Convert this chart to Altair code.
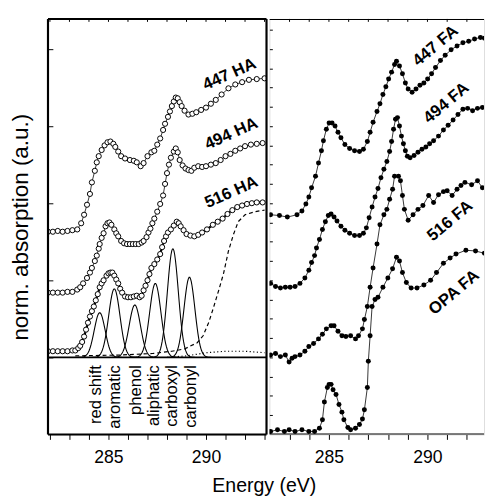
import altair as alt
import pandas as pd
import numpy as np

# ---------------- data ----------------
# Left panel: humic acids (open circles)
E_447HA = [281.9, 282.15, 282.4, 282.65, 282.9, 283.15, 283.4, 283.6, 283.75, 283.9, 284.05, 284.15, 284.3, 284.4,
           284.5, 284.65, 284.8, 284.95, 285.1, 285.25, 285.35, 285.5, 285.65, 285.85, 286.1, 286.3, 286.45, 286.65,
           286.8, 287.0, 287.2, 287.35, 287.5, 287.65, 287.8, 287.9, 288.05, 288.15, 288.25, 288.35, 288.45, 288.55,
           288.65, 288.75, 288.9, 289.1, 289.3, 289.5, 289.75, 290.0, 290.25, 290.5, 290.8, 291.15, 291.5, 291.85,
           292.2, 292.6, 293.0]
Y_447HA = [2.63, 2.63, 2.64, 2.63, 2.64, 2.65, 2.66, 2.74, 2.85, 2.98, 3.12, 3.27, 3.42, 3.53,
           3.61, 3.69, 3.75, 3.79, 3.80, 3.77, 3.73, 3.67, 3.61, 3.58, 3.56, 3.55, 3.53, 3.48,
           3.52, 3.61, 3.66, 3.68, 3.76, 3.84, 3.95, 4.03, 4.12, 4.19, 4.26, 4.32, 4.37, 4.36,
           4.31, 4.26, 4.20, 4.15, 4.16, 4.18, 4.21, 4.24, 4.29, 4.34, 4.41, 4.49, 4.54, 4.57,
           4.60, 4.61, 4.62]

E_494HA = [281.9, 282.15, 282.4, 282.65, 282.9, 283.15, 283.4, 283.55, 283.7, 283.9, 284.05, 284.15, 284.3, 284.4,
           284.5, 284.55, 284.65, 284.75, 284.85, 284.95, 285.05, 285.15, 285.3, 285.4, 285.5, 285.65, 285.8, 285.95,
           286.1, 286.25, 286.4, 286.55, 286.7, 286.8, 286.95, 287.05, 287.15, 287.25, 287.35, 287.5, 287.65, 287.8,
           287.9, 288.0, 288.1, 288.2, 288.35, 288.45, 288.55, 288.65, 288.8, 288.95, 289.1, 289.25, 289.4, 289.6,
           289.8, 290.0, 290.25, 290.5, 290.75, 291.0, 291.25, 291.5, 291.75, 292.0, 292.3, 292.6, 292.9]
Y_494HA = [1.84, 1.84, 1.84, 1.84, 1.85, 1.85, 1.88, 1.91, 1.96, 2.03, 2.10, 2.16, 2.25, 2.32,
           2.41, 2.47, 2.55, 2.61, 2.70, 2.74, 2.75, 2.72, 2.66, 2.61, 2.57, 2.51, 2.48, 2.47,
           2.47, 2.47, 2.47, 2.47, 2.49, 2.51, 2.56, 2.62, 2.67, 2.74, 2.80, 2.89, 2.99, 3.10,
           3.25, 3.39, 3.50, 3.59, 3.67, 3.71, 3.66, 3.56, 3.49, 3.45, 3.43, 3.42, 3.46, 3.48,
           3.47, 3.48, 3.50, 3.52, 3.56, 3.61, 3.64, 3.68, 3.71, 3.74, 3.76, 3.77, 3.78]

E_516HA = [281.9, 282.15, 282.4, 282.65, 282.9, 283.15, 283.3, 283.45, 283.55, 283.65, 283.75, 283.85, 283.95, 284.05,
           284.15, 284.25, 284.35, 284.45, 284.55, 284.65, 284.75, 284.9, 285.0, 285.1, 285.2, 285.3, 285.4, 285.5,
           285.6, 285.7, 285.85, 286.0, 286.15, 286.3, 286.45, 286.6, 286.7, 286.8, 286.9, 287.0, 287.1, 287.2,
           287.35, 287.5, 287.65, 287.75, 287.85, 287.95, 288.05, 288.2, 288.35, 288.5, 288.6, 288.7, 288.85, 289.0,
           289.2, 289.4, 289.6, 289.8, 290.05, 290.35, 290.6, 290.85, 291.1, 291.35, 291.6, 291.85, 292.1, 292.35,
           292.6, 292.9]
Y_516HA = [1.08, 1.08, 1.08, 1.08, 1.08, 1.09, 1.09, 1.12, 1.15, 1.20, 1.27, 1.36, 1.45, 1.53,
           1.60, 1.66, 1.74, 1.82, 1.91, 1.96, 2.00, 2.06, 2.09, 2.10, 2.10, 2.06, 2.01, 1.96,
           1.89, 1.84, 1.79, 1.78, 1.78, 1.79, 1.80, 1.78, 1.80, 1.87, 1.93, 2.00, 2.08, 2.16,
           2.21, 2.27, 2.34, 2.43, 2.51, 2.57, 2.62, 2.66, 2.71, 2.76, 2.74, 2.70, 2.65, 2.60,
           2.58, 2.57, 2.59, 2.62, 2.66, 2.72, 2.76, 2.80, 2.86, 2.91, 2.95, 2.97, 2.99, 3.00,
           3.01, 3.01]

# Gaussian components of the 516 HA fit (centre eV, height above baseline, sigma eV)
PEAK_NAMES = ["red shift", "aromatic", "phenol", "aliphatic", "carboxyl", "carbonyl"]
PEAK_CENTER = [284.55, 285.3, 286.35, 287.4, 288.3, 289.15]
PEAK_HEIGHT = [0.58, 0.89, 0.68, 0.96, 1.41, 1.04]
PEAK_SIGMA = [0.28, 0.29, 0.29, 0.29, 0.28, 0.28]
PEAK_LABEL_E = [284.35, 285.35, 286.4, 287.35, 288.25, 289.25]
BASELINE = 1.0

# Ionisation step (dashed) and the small dotted component
E_STEP = [283.3, 285.5, 287.25, 288.25, 288.9, 289.55, 289.85, 290.15, 290.4, 290.65, 290.9, 291.15, 291.4,
          291.65, 292.0, 292.5, 293.0]
Y_STEP = [1.02, 1.03, 1.05, 1.08, 1.11, 1.19, 1.28, 1.46, 1.66, 1.87, 2.09, 2.38, 2.59,
          2.76, 2.85, 2.89, 2.91]
E_DOT = [288.0, 289.0, 289.5, 290.0, 290.5, 291.0, 291.5, 292.0, 292.5, 293.0]
Y_DOT = [1.00, 1.02, 1.04, 1.06, 1.07, 1.08, 1.08, 1.08, 1.07, 1.06]

# Right panel: fulvic acids (filled circles)
E_447FA = [282.04, 282.49, 282.89, 283.38, 283.63, 283.83, 283.98, 284.12, 284.32, 284.47, 284.62, 284.72, 284.87,
           285.01, 285.16, 285.31, 285.46, 285.61, 285.81, 286.05, 286.3, 286.55, 286.75, 286.95, 287.09, 287.24,
           287.44, 287.59, 287.74, 287.89, 288.03, 288.18, 288.33, 288.43, 288.58, 288.73, 288.88, 289.02, 289.22,
           289.42, 289.62, 289.82, 290.01, 290.21, 290.41, 290.66, 290.9, 291.2, 291.5, 291.8, 292.09, 292.39,
           292.69, 292.89]
Y_447FA = [2.85, 2.84, 2.82, 2.85, 2.90, 2.99, 3.08, 3.20, 3.35, 3.52, 3.68, 3.81, 3.96,
           4.04, 4.04, 4.00, 3.92, 3.85, 3.76, 3.71, 3.68, 3.67, 3.70, 3.80, 3.92, 4.05,
           4.19, 4.29, 4.41, 4.51, 4.61, 4.70, 4.80, 4.84, 4.78, 4.68, 4.56, 4.48, 4.44,
           4.48, 4.53, 4.56, 4.61, 4.68, 4.76, 4.85, 4.92, 4.99, 5.04, 5.08, 5.10, 5.13,
           5.15, 5.14]

E_494FA = [282.04, 282.29, 282.54, 282.79, 283.03, 283.28, 283.53, 283.78, 283.98, 284.12, 284.27, 284.37, 284.52,
           284.67, 284.82, 284.97, 285.11, 285.26, 285.41, 285.61, 285.81, 286.05, 286.3, 286.55, 286.75, 286.9,
           287.04, 287.19, 287.34, 287.49, 287.64, 287.79, 287.94, 288.08, 288.18, 288.28, 288.38, 288.48, 288.58,
           288.68, 288.78, 288.88, 288.98, 289.12, 289.32, 289.52, 289.72, 289.92, 290.11, 290.31, 290.56, 290.81,
           291.05, 291.3, 291.55, 291.8, 292.04, 292.29, 292.54, 292.79]
Y_494FA = [1.96, 1.92, 1.90, 1.91, 1.91, 1.92, 1.96, 2.03, 2.13, 2.23, 2.32, 2.42, 2.53,
           2.66, 2.76, 2.84, 2.86, 2.82, 2.77, 2.70, 2.65, 2.61, 2.58, 2.58, 2.61, 2.68,
           2.81, 2.95, 3.08, 3.19, 3.33, 3.44, 3.54, 3.67, 3.80, 3.96, 4.09, 4.11, 4.00,
           3.87, 3.77, 3.68, 3.61, 3.59, 3.62, 3.66, 3.70, 3.73, 3.77, 3.81, 3.87, 3.95,
           4.01, 4.08, 4.15, 4.22, 4.23, 4.20, 4.23, 4.24]

E_516FA = [282.04, 282.29, 282.54, 282.79, 282.98, 283.13, 283.28, 283.53, 283.78, 283.98, 284.22, 284.47, 284.67,
           284.87, 285.11, 285.26, 285.46, 285.66, 285.86, 286.1, 286.35, 286.5, 286.7, 286.8, 286.95, 287.09,
           287.24, 287.44, 287.59, 287.79, 287.94, 288.08, 288.23, 288.33, 288.53, 288.63, 288.73, 288.83, 289.02,
           289.27, 289.52, 289.77, 290.06, 290.31, 290.56, 290.81, 291.0, 291.25, 291.5, 291.7, 291.9, 292.24,
           292.54, 292.79]
Y_516FA = [1.03, 1.05, 1.01, 1.03, 0.94, 0.99, 1.01, 1.03, 1.08, 1.14, 1.18, 1.24, 1.30,
           1.37, 1.41, 1.41, 1.34, 1.28, 1.27, 1.28, 1.24, 1.28, 1.37, 1.49, 1.66, 1.91,
           2.16, 2.47, 2.72, 2.85, 2.92, 3.05, 3.18, 3.35, 3.35, 3.29, 3.10, 2.92, 2.78,
           2.85, 2.92, 2.97, 3.10, 3.01, 3.11, 3.15, 3.16, 3.10, 3.18, 3.23, 3.27, 3.24,
           3.29, 3.20]

E_OPAFA = [282.04, 282.39, 282.74, 282.98, 283.28, 283.63, 283.98, 284.27, 284.52, 284.67, 284.77, 284.92, 285.01,
           285.11, 285.21, 285.36, 285.51, 285.66, 285.76, 285.96, 286.1, 286.35, 286.55, 286.7, 286.8, 286.95,
           287.0, 287.09, 287.19, 287.34, 287.49, 287.74, 287.99, 288.23, 288.43, 288.58, 288.73, 288.93, 289.17,
           289.47, 289.82, 290.16, 290.46, 290.81, 291.15, 291.45, 291.95, 292.44, 292.89]
Y_OPAFA = [0.04, 0.06, 0.04, 0.06, 0.04, 0.06, 0.04, 0.04, 0.08, 0.19, 0.42, 0.61, 0.65,
           0.65, 0.58, 0.52, 0.39, 0.29, 0.19, 0.09, 0.06, 0.08, 0.13, 0.20, 0.32, 0.61,
           0.95, 1.28, 1.66, 1.75, 1.78, 1.91, 2.03, 2.15, 2.30, 2.25, 2.10, 1.97, 1.90,
           1.90, 1.94, 2.00, 2.10, 2.22, 2.29, 2.34, 2.39, 2.38, 2.35]

# Sample labels (position in data units, rotation)
HA_LABELS = ["447 HA", "494 HA", "516 HA"]
HA_LABEL_E = [291.2, 291.3, 291.3]
HA_LABEL_Y = [4.67, 3.90, 3.14]
FA_LABELS = ["447 FA", "494 FA", "516 FA", "OPA FA"]
FA_LABEL_E = [290.41, 290.96, 291.15, 291.35]
FA_LABEL_Y = [5.04, 4.30, 2.77, 1.84]

X_TICKS_L = list(range(282, 294))
X_TICKS_R = list(range(283, 293))
Y_TICKS_LEFT = [1, 2, 3, 4, 5]
Y_TICKS_RIGHT = [i * 0.25 for i in range(1, 22)]

XL = [281.9, 293.1]
XR = [281.98, 292.87]
YD = [0, 5.39]

# ---------------- build tables ----------------
def table(name, E, Y):
    return pd.DataFrame({"E": E, "y": Y, "s": name})

ha = pd.concat([table("447 HA", E_447HA, Y_447HA),
                table("494 HA", E_494HA, Y_494HA),
                table("516 HA", E_516HA, Y_516HA)])
fit = table("516 HA", E_516HA, Y_516HA)
fa = pd.concat([table("447 FA", E_447FA, Y_447FA),
                table("494 FA", E_494FA, Y_494FA),
                table("516 FA", E_516FA, Y_516FA),
                table("OPA FA", E_OPAFA, Y_OPAFA)])

g_rows = []
for name, c, h, s in zip(PEAK_NAMES, PEAK_CENTER, PEAK_HEIGHT, PEAK_SIGMA):
    for e in np.linspace(c - 4 * s, c + 4 * s, 60):
        g_rows.append({"E": e, "y": BASELINE + h * np.exp(-0.5 * ((e - c) / s) ** 2), "peak": name})
gauss = pd.DataFrame(g_rows)
step = table("step", E_STEP, Y_STEP)
dot = table("dot", E_DOT, Y_DOT)
peak_lab = pd.DataFrame({"E": PEAK_LABEL_E, "y": [0.9] * 6, "t": PEAK_NAMES})
ha_lab = pd.DataFrame({"E": HA_LABEL_E, "y": HA_LABEL_Y, "t": HA_LABELS})
fa_lab = pd.DataFrame({"E": FA_LABEL_E, "y": FA_LABEL_Y, "t": FA_LABELS})

FONT = "Liberation Sans"
xsL = alt.Scale(domain=XL, nice=False, zero=False)
xsR = alt.Scale(domain=XR, nice=False, zero=False)
ys = alt.Scale(domain=YD, nice=False, zero=False)


def x_bottom(vals):
    return alt.Axis(values=vals, labelExpr="datum.value % 5 == 0 ? datum.label : ''",
                    tickSize=5, tickColor="black", tickWidth=1, labelFontSize=18, labelFont=FONT,
                    labelColor="black", labelPadding=10, domain=False, grid=False, title=None,
                    labelFlush=False, labelOverlap=False, minExtent=0)


y_left = alt.Axis(values=Y_TICKS_LEFT, labels=False, tickSize=5, offset=-5, tickColor="black",
                  tickWidth=1, domain=False, grid=False, title="norm. absorption (a.u.)",
                  titleFontSize=23, titleFont=FONT, titleFontWeight="normal", titleColor="black",
                  titlePadding=16, minExtent=0)
y_right = alt.Axis(values=Y_TICKS_RIGHT, labels=False, tickSize=3, offset=-3, tickColor="black",
                   tickWidth=1, domain=False, grid=False, title=None, minExtent=0)


def top_ticks(vals, scale):
    return alt.Chart(pd.DataFrame({"E": vals})).mark_rule(color="black", strokeWidth=1).encode(
        x=alt.X("E:Q", scale=scale, axis=None), y=alt.value(0), y2=alt.value(3))


# ---------------- left panel ----------------
L_ha_line = alt.Chart(ha).mark_line(color="black", strokeWidth=0.8, clip=True).encode(
    x=alt.X("E:Q", scale=xsL, axis=x_bottom(X_TICKS_L)),
    y=alt.Y("y:Q", scale=ys, axis=y_left),
    detail="s:N")
L_fit = alt.Chart(fit).mark_line(color="black", strokeWidth=2.2, clip=True).encode(
    x=alt.X("E:Q", scale=xsL, axis=None), y=alt.Y("y:Q", scale=ys, axis=None))
L_gauss = alt.Chart(gauss).mark_line(color="black", strokeWidth=1.1).encode(
    x=alt.X("E:Q", scale=xsL, axis=None), y=alt.Y("y:Q", scale=ys, axis=None), detail="peak:N")
L_step = alt.Chart(step).mark_line(color="black", strokeWidth=1.2, strokeDash=[4, 3]).encode(
    x=alt.X("E:Q", scale=xsL, axis=None), y=alt.Y("y:Q", scale=ys, axis=None))
L_dot = alt.Chart(dot).mark_line(color="black", strokeWidth=1.2, strokeDash=[1.2, 2.5]).encode(
    x=alt.X("E:Q", scale=xsL, axis=None), y=alt.Y("y:Q", scale=ys, axis=None))
L_base = alt.Chart(pd.DataFrame({"y": [BASELINE]})).mark_rule(color="black", strokeWidth=2).encode(
    y=alt.Y("y:Q", scale=ys, axis=None), x=alt.value(0), x2=alt.value(224))
L_pts = alt.Chart(ha).mark_point(shape="circle", filled=True, fill="white", stroke="black",
                                  strokeWidth=1, size=28, opacity=1, clip=True).encode(
    x=alt.X("E:Q", scale=xsL, axis=None), y=alt.Y("y:Q", scale=ys, axis=None))
L_plab = alt.Chart(peak_lab).mark_text(angle=270, align="right", baseline="middle", fontSize=17,
                                        font=FONT, color="black").encode(
    x=alt.X("E:Q", scale=xsL, axis=None), y=alt.Y("y:Q", scale=ys, axis=None), text="t:N")
L_hlab = alt.Chart(ha_lab).mark_text(angle=336, align="center", baseline="middle", fontSize=17,
                                      fontWeight="bold", font=FONT, color="black").encode(
    x=alt.X("E:Q", scale=xsL, axis=None), y=alt.Y("y:Q", scale=ys, axis=None), text="t:N")
L_vframe = alt.Chart(pd.DataFrame({"E": XL})).mark_rule(color="black", strokeWidth=2.2).encode(
    x=alt.X("E:Q", scale=xsL, axis=None), y=alt.value(0), y2=alt.value(426))
L_hframe = alt.Chart(pd.DataFrame({"y": YD})).mark_rule(color="black", strokeWidth=2).encode(
    y=alt.Y("y:Q", scale=ys, axis=None), x=alt.value(0), x2=alt.value(224))

left = alt.layer(L_ha_line, L_fit, L_gauss, L_step, L_dot, L_base, L_pts, L_plab, L_hlab,
                 L_vframe, L_hframe, top_ticks(X_TICKS_L, xsL)).resolve_axis(
    x="independent", y="independent").properties(width=224, height=426)

# ---------------- right panel ----------------
R_line = alt.Chart(fa).mark_line(color="black", strokeWidth=0.8, clip=True).encode(
    x=alt.X("E:Q", scale=xsR, axis=x_bottom(X_TICKS_R)),
    y=alt.Y("y:Q", scale=ys, axis=y_right),
    detail="s:N")
R_pts = alt.Chart(fa).mark_point(shape="circle", filled=True, color="black", size=26, opacity=1,
                                  clip=True).encode(
    x=alt.X("E:Q", scale=xsR, axis=None), y=alt.Y("y:Q", scale=ys, axis=None))
R_lab = alt.Chart(fa_lab).mark_text(angle=320, align="center", baseline="middle", fontSize=17,
                                     fontWeight="bold", font=FONT, color="black").encode(
    x=alt.X("E:Q", scale=xsR, axis=None), y=alt.Y("y:Q", scale=ys, axis=None), text="t:N")
R_hframe = alt.Chart(pd.DataFrame({"y": YD})).mark_rule(color="black", strokeWidth=2, clip=True).encode(
    y=alt.Y("y:Q", scale=ys, axis=None), x=alt.value(0), x2=alt.value(220))

right = alt.layer(R_line, R_pts, R_lab, R_hframe, top_ticks(X_TICKS_R, xsR)).resolve_axis(
    x="independent", y="independent").properties(width=220, height=426)

chart = alt.hconcat(left, right, spacing=0).properties(
    padding={"left": 1, "top": 3, "right": 0, "bottom": 0},
    title=alt.TitleParams("Energy (eV)", orient="bottom", anchor="middle", fontSize=20,
                          fontWeight="normal", font=FONT, color="black", dx=18, offset=9),
).configure_view(stroke=None).configure(font=FONT)

chart.save("out.html", embed_options={"renderer": "svg", "actions": False})
